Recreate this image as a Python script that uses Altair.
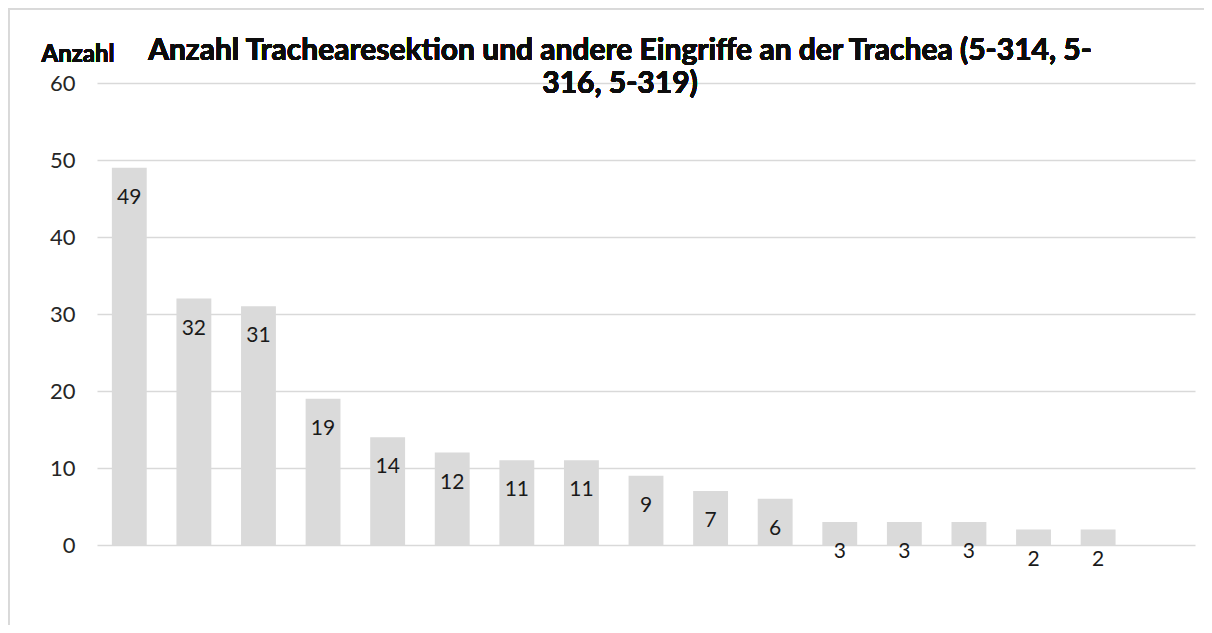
import altair as alt
import pandas as pd

categories = [str(i) for i in range(1, 17)]
values = [49, 32, 31, 19, 14, 12, 11, 11, 9, 7, 6, 3, 3, 3, 2, 2]
domain = categories + ["17"]
title_lines = ["Anzahl Trachearesektion und andere Eingriffe an der Trachea (5-314, 5-", "316, 5-319)"]
y_title = "Anzahl"
y_ticks = [0, 10, 20, 30, 40, 50, 60]

df = pd.DataFrame({"cat": categories, "val": values})

W, H = 1098, 462
PL, PT, PR, PB = 89, 75, 9, 80
FONT = "Lato"

x = alt.X("cat:N", scale=alt.Scale(domain=domain, paddingInner=0.46, paddingOuter=0.23), axis=None)
y = alt.Y("val:Q", scale=alt.Scale(domain=[0, 60], nice=False),
          axis=alt.Axis(values=y_ticks, title=None, domain=False, ticks=False,
                        labelPadding=22, labelFontSize=22, labelColor="#262626", labelFont=FONT,
                        gridColor="#d9d9d9", gridWidth=1.5))

bars = alt.Chart(df).mark_bar(color="#dadada").encode(x=x, y=y)
labels = alt.Chart(df).mark_text(dy=30, baseline="middle", fontSize=21, font=FONT, color="#1a1a1a").encode(
    x=x, y=y, text="val:Q")

border_left = alt.Chart(df).mark_rule(color="#d9d9d9", strokeWidth=1.5).encode(
    x=alt.value(-PL + 0.75), y=alt.value(-PT), y2=alt.value(H + PB))
border_top = alt.Chart(df).mark_rule(color="#d9d9d9", strokeWidth=1.5).encode(
    x=alt.value(-PL), x2=alt.value(W + PR), y=alt.value(-PT + 0.75))

title = alt.Chart(df).mark_text(fontSize=30, fontWeight="bold", font=FONT, color="#0d0d0d",
                                lineHeight=33, baseline="middle", align="center").encode(
    x=alt.value(620 - 8 - PL), y=alt.value(51 - 8 - PT), text=alt.value(title_lines))

ytitle = alt.Chart(df).mark_text(fontSize=24, fontWeight="bold", font=FONT, color="#0d0d0d",
                                 baseline="middle", align="center").encode(
    x=alt.value(78 - 8 - PL), y=alt.value(55 - 8 - PT), text=alt.value(y_title))

chart = alt.layer(border_left, border_top, bars, labels, title, ytitle).properties(
    width=W, height=H,
    padding={"left": PL, "top": PT, "right": PR, "bottom": PB},
    autosize=alt.AutoSizeParams(type="none"),
).configure_view(stroke=None)

chart.save("out.html", embed_options={"renderer": "svg", "actions": False})
